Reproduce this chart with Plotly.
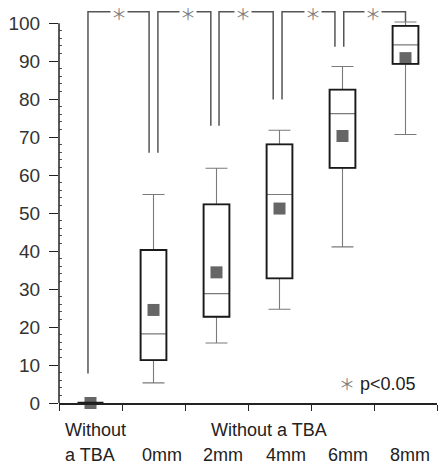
import plotly.graph_objects as go

# ---- data ----
categories = [0, 1, 2, 3, 4, 5]
q1 = [0, 11.3, 22.7, 32.8, 61.9, 89.3]
median = [0, 18.2, 28.8, 54.9, 76.2, 94.3]
q3 = [0, 40.3, 52.3, 68.1, 82.5, 99.3]
lower_whisker = [0, 5.3, 15.8, 24.7, 41.1, 70.7]
upper_whisker = [0, 54.9, 61.8, 71.8, 88.6, 100.3]
means = [0, 24.5, 34.4, 51.2, 70.3, 90.8]

# significance brackets
bracket_left = [-0.04, 1.07, 2.04, 3.04, 4.02]
bracket_right = [0.93, 1.91, 2.90, 3.88, 5.0]
bracket_left_bottom = [7.8, 65.9, 73.0, 79.9, 93.8]
bracket_right_bottom = [65.9, 73.0, 79.9, 93.8, 100.4]
bracket_top = 103
star_x = [0.45, 1.54, 2.42, 3.53, 4.48]

# axis labels
y_ticks = [0, 10, 20, 30, 40, 50, 60, 70, 80, 90, 100]
y_minor = [v for v in range(2, 100, 2) if v % 10 != 0]
x_boundaries = [-0.5, 0.5, 1.5, 2.5, 3.5, 4.5, 5.5]
mm_labels = ["0mm", "2mm", "4mm", "6mm", "8mm"]
mm_label_x = [1.13, 2.11, 3.10, 4.08, 5.07]

FONT = "Liberation Sans, Arial, sans-serif"
STAR_FONT = "Noto Sans CJK JP"
BOX_W = 0.41
fig = go.Figure()

# gray box plot (median, whiskers)
fig.add_trace(go.Box(
    x=categories, q1=q1, median=median, q3=q3,
    lowerfence=lower_whisker, upperfence=upper_whisker,
    width=BOX_W, whiskerwidth=0.85,
    line=dict(color="#7a7a7a", width=1.1),
    fillcolor="rgba(0,0,0,0)", hoverinfo="skip", showlegend=False,
))
# means
fig.add_trace(go.Scatter(
    x=categories, y=means, mode="markers",
    marker=dict(symbol="square", size=12, color="#666666"),
    cliponaxis=False, showlegend=False, hoverinfo="skip",
))

# brackets
for l, r, lb, rb in zip(bracket_left, bracket_right, bracket_left_bottom, bracket_right_bottom):
    fig.add_trace(go.Scatter(
        x=[l, l, r, r], y=[lb, bracket_top, bracket_top, rb],
        mode="lines", line=dict(color="#555555", width=1.5),
        cliponaxis=False, showlegend=False, hoverinfo="skip",
    ))

# black interquartile outlines, in data coordinates
shapes = [dict(type="line", xref="paper", yref="y", x0=0, x1=0, y0=0, y1=100,
               line=dict(color="#222222", width=1.5))]
for c, a, b in zip(categories, q1, q3):
    shapes.append(dict(type="rect", xref="x", yref="y",
                       x0=c - BOX_W / 2, x1=c + BOX_W / 2, y0=a, y1=b,
                       line=dict(color="#1a1a1a", width=1.9 if b > a else 2.6),
                       fillcolor="rgba(0,0,0,0)", layer="above"))

annotations = []
for sx in star_x:
    annotations.append(dict(
        x=sx, y=bracket_top, xref="x", yref="y", text="＊", showarrow=False,
        font=dict(family=STAR_FONT, size=16, color="#808080"),
        bgcolor="white", borderpad=0, xanchor="center", yanchor="middle", yshift=-1,
    ))

ROW1 = -0.068
ROW2 = -0.132
lab_font = dict(family=FONT, size=18, color="#222222")
annotations.append(dict(x=-0.437, y=ROW1, xref="x", yref="paper", text="Without",
                        showarrow=False, xanchor="left", yanchor="middle", font=lab_font))
annotations.append(dict(x=-0.437, y=ROW2, xref="x", yref="paper", text="a TBA",
                        showarrow=False, xanchor="left", yanchor="middle", font=lab_font))
annotations.append(dict(x=2.83, y=ROW1, xref="x", yref="paper", text="Without a TBA",
                        showarrow=False, xanchor="center", yanchor="middle", font=lab_font))
for lab, lx in zip(mm_labels, mm_label_x):
    annotations.append(dict(x=lx, y=ROW2, xref="x", yref="paper", text=lab,
                            showarrow=False, xanchor="center", yanchor="middle", font=lab_font))

# significance legend
annotations.append(dict(x=5.2, y=5.3, xref="x", yref="y",
                        text="<span style='color:#808080;font-family:Noto Sans CJK JP;font-size:16px'>＊</span> p&lt;0.05",
                        showarrow=False, xanchor="right", yanchor="middle",
                        font=dict(family=FONT, size=18, color="#222222")))

fig.update_layout(
    width=442, height=467,
    margin=dict(l=59, r=5, t=8, b=64),
    paper_bgcolor="white", plot_bgcolor="white",
    showlegend=False,
    annotations=annotations,
    shapes=shapes,
    xaxis=dict(
        range=[-0.5, 5.5], showgrid=False, zeroline=False,
        showline=True, linecolor="#222222", linewidth=1.5,
        tickmode="array", tickvals=x_boundaries, ticktext=[""] * len(x_boundaries),
        ticks="outside", ticklen=6, tickcolor="#222222", tickwidth=1.2,
    ),
    yaxis=dict(
        range=[0, 104], showgrid=False, zeroline=False, showline=False,
        tickmode="array", tickvals=y_ticks,
        ticks="outside", ticklen=9, tickcolor="#222222", tickwidth=1.2,
        ticklabelstandoff=5,
        tickfont=dict(family=FONT, size=19, color="#333333"),
        minor=dict(tickmode="array", tickvals=y_minor, ticks="inside",
                   ticklen=3, tickcolor="#555555", tickwidth=1),
    ),
)

fig.write_html("out.html", config={"displayModeBar": False},
               post_script="document.body.style.margin='0';document.body.style.overflow='hidden';")
